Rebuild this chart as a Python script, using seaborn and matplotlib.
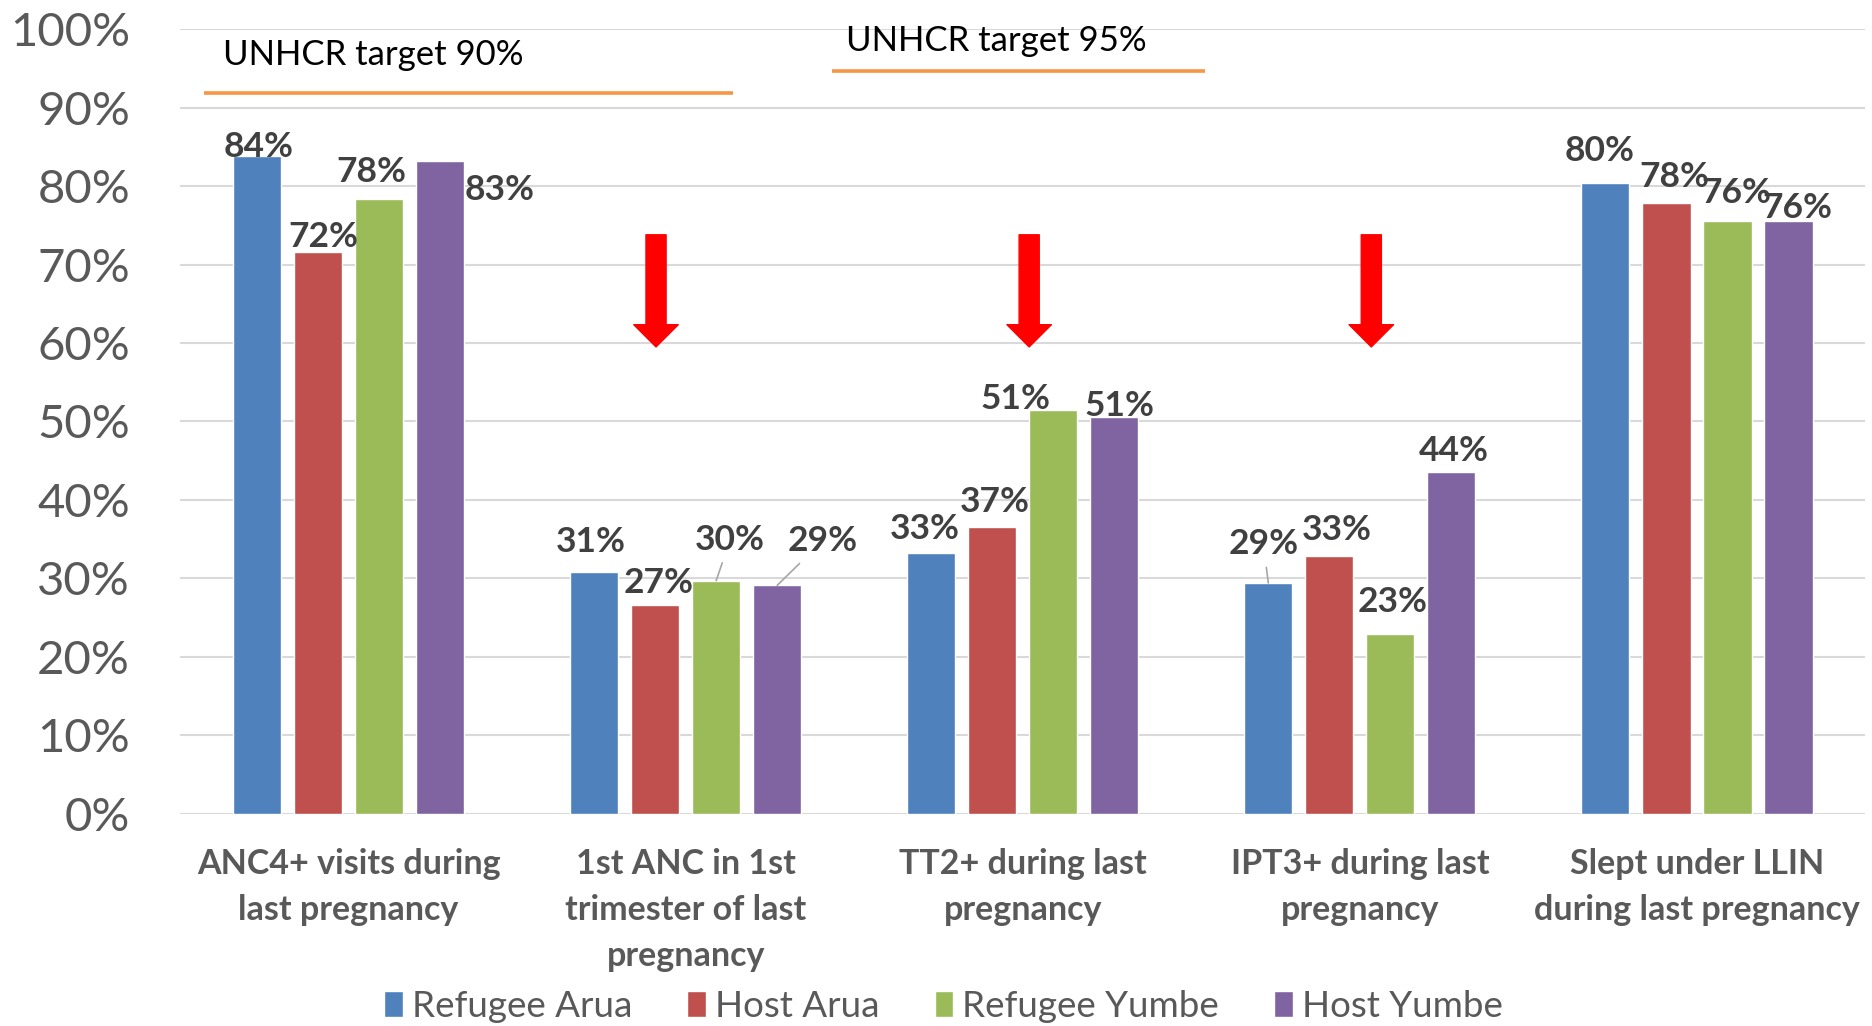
import matplotlib
matplotlib.use("Agg")
import matplotlib.pyplot as plt
import pandas as pd
import seaborn as sns

categories = [
    "ANC4+ visits during\nlast pregnancy",
    "1st ANC in 1st\ntrimester of last\npregnancy",
    "TT2+ during last\npregnancy",
    "IPT3+ during last\npregnancy",
    "Slept under LLIN\nduring last pregnancy",
]
series = ["Refugee Arua", "Host Arua", "Refugee Yumbe", "Host Yumbe"]
refugee_arua = [83.9, 30.8, 33.2, 29.4, 80.4]
host_arua = [71.6, 26.6, 36.6, 32.9, 77.9]
refugee_yumbe = [78.4, 29.7, 51.4, 22.9, 75.6]
host_yumbe = [83.2, 29.1, 50.6, 43.6, 75.5]
colors = ["#4F81BD", "#C0504D", "#9BBB59", "#8064A2"]

# hand-placed data labels, offset in px from top centre of each bar (per category, per series)
label_nudge = [
    [(2, 11), (5, 17), (-8, 29), (59, -27)],
    [(-3, 32), (3, 24), (14, 43), (45, 46)],
    [(-6, 26), (3, 27), (-38, 13), (5, 13)],
    [(-5, 41), (7, 28), (2, 34), (2, 23)],
    [(-6, 34), (8, 28), (9, 30), (9, 15)],
]
leader_lines = [(1, 2), (1, 3), (3, 0)]

# target annotations drawn on the chart
target_text = ["UNHCR target 90%", "UNHCR target 95%"]
target_line_y = [91.9, 94.7]
target_line_x = [(-0.43, 1.14), (1.435, 2.54)]
target_text_pos = [(-0.372, 96.7), (1.476, 98.5)]
arrow_x = [0.912, 2.019, 3.034]
arrow_top, arrow_tip = 73.8, 59.5

df = pd.DataFrame({
    "category": categories * 4,
    "series": [s for s in series for _ in categories],
    "value": refugee_arua + host_arua + refugee_yumbe + host_yumbe,
})

sns.set_theme(style="white")
plt.rcParams["font.family"] = ["Lato", "DejaVu Sans"]

fig = plt.figure(figsize=(18.72, 10.26), dpi=100)
ax = fig.add_axes([0.0962, 0.2071, 0.9003, 0.7643])

sns.barplot(data=df, x="category", y="value", hue="series", palette=colors,
            width=0.724, gap=0.21, saturation=1, ax=ax)

ax.set_xlim(-0.5, 4.5)
ax.set_ylim(0, 100)
ax.set_yticks(range(0, 101, 10))
ax.set_yticklabels([f"{v}%" for v in range(0, 101, 10)])
ax.yaxis.grid(True, color="#D9D9D9", lw=1.5)
ax.set_axisbelow(True)
ax.axhline(0, color="#D9D9D9", lw=2, zorder=0)
for sp in ax.spines.values():
    sp.set_visible(False)
ax.set_xlabel("")
ax.set_ylabel("")
ax.tick_params(axis="y", length=0, pad=36, labelsize=34, labelcolor="#595959")
ax.tick_params(axis="x", length=0, pad=25, labelsize=24.5, labelcolor="#595959")
for lab in ax.get_xticklabels():
    lab.set_fontweight("bold")
    lab.set_linespacing(1.54)

for si, cont in enumerate(ax.containers):
    for ci, bar in enumerate(cont):
        h = bar.get_height()
        dx, dy = label_nudge[ci][si]
        xc = bar.get_x() + bar.get_width() / 2
        props = None
        if (ci, si) in leader_lines:
            props = dict(arrowstyle="-", color="#A6A6A6", lw=1.2, shrinkA=3, shrinkB=0)
        ax.annotate(f"{round(h)}%", xy=(xc, h), xytext=(dx * 0.72, (dy - 12) * 0.72),
                    textcoords="offset points", ha="center", va="baseline",
                    fontsize=25.5, fontweight="bold", color="#404040", arrowprops=props)

for txt, ly, (x0, x1), (tx, ty) in zip(target_text, target_line_y, target_line_x, target_text_pos):
    ax.plot([x0, x1], [ly, ly], color="#F79646", lw=2.6, solid_capstyle="butt", clip_on=False)
    ax.text(tx, ty, txt, fontsize=25, color="black", ha="left", va="center", clip_on=False)

for x in arrow_x:
    ax.annotate("", xy=(x, arrow_tip), xytext=(x, arrow_top),
                arrowprops=dict(arrowstyle="simple,head_length=1.6,head_width=3.2,tail_width=1.45",
                                mutation_scale=10, color="#FF0000", shrinkA=0, shrinkB=0))

handles, labels = ax.get_legend_handles_labels()
ax.get_legend().remove()
fig.legend(handles, labels, loc="center", bbox_to_anchor=(0.504, 0.019), ncol=4,
           frameon=False, fontsize=26.5, labelcolor="#595959", handlelength=0.5,
           handleheight=0.7, handletextpad=0.25, columnspacing=1.5)

fig.savefig("out.png", dpi=100)
